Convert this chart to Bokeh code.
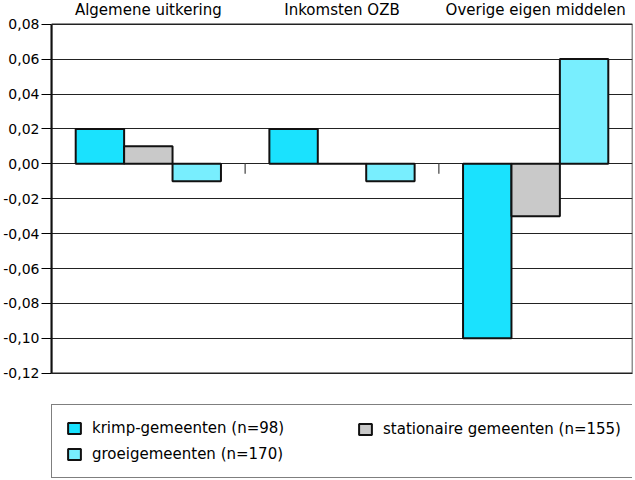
from bokeh.plotting import figure
from bokeh.models import (Range1d, FixedTicker, BoxAnnotation, Legend, LegendItem,
                          ColumnDataSource)
from bokeh.embed import file_html
from bokeh.resources import INLINE

# ---- data ----
categories = ["Algemene uitkering", "Inkomsten OZB", "Overige eigen middelen"]
krimp = [0.02, 0.02, -0.10]
stationair = [0.01, 0.00, -0.03]
groei = [-0.01, -0.01, 0.06]
series_labels = ["krimp-gemeenten (n=98)", "stationaire gemeenten (n=155)",
                 "groeigemeenten (n=170)"]
y_ticks = [-0.12, -0.10, -0.08, -0.06, -0.04, -0.02, 0.00, 0.02, 0.04, 0.06, 0.08]
y_tick_labels = ["-0,12", "-0,10", "-0,08", "-0,06", "-0,04", "-0,02",
                 "0,00", "0,02", "0,04", "0,06", "0,08"]

# ---- layout constants ----
W, H = 635, 480
px_per_unit = 1745.0
y_end = y_ticks[-1] + 23.7 / px_per_unit
y_start = y_ticks[0] - (H - 372.7) / px_per_unit
FONT = "DejaVu Sans"

colors = ["#1AE2FE", "#C9C9C9", "#78EEFE"]
bar_w = 0.25
offsets = [-0.25, 0.0, 0.25]

p = figure(width=W, height=H, x_range=Range1d(0, len(categories)),
           y_range=Range1d(y_start, y_end), output_backend="svg",
           toolbar_location=None, x_axis_location=None,
           min_border_left=51, min_border_right=3, min_border_top=0,
           min_border_bottom=0)
p.outline_line_color = None
p.background_fill_color = "white"
p.border_fill_color = "white"
p.xgrid.visible = False

# y axis
yax = p.yaxis[0]
yax.ticker = FixedTicker(ticks=y_ticks)
yax.major_label_overrides = dict(zip(y_ticks, y_tick_labels))
yax.bounds = (y_ticks[0], y_ticks[-1])
yax.axis_line_width = 2
yax.axis_line_color = "black"
yax.major_tick_out = 10
yax.major_tick_in = 0
yax.major_tick_line_color = "black"
yax.minor_tick_line_color = None
yax.major_label_standoff = 2
yax.major_label_text_font = FONT
yax.major_label_text_font_size = "14px"
yax.major_label_text_color = "black"

p.ygrid.grid_line_color = "#222222"
p.ygrid.grid_line_width = 1

# bars
renderers = []
for vals, col, off in zip([krimp, stationair, groei], colors, offsets):
    src = ColumnDataSource(dict(x=[i + 0.5 + off for i in range(len(categories))],
                                top=vals))
    r = p.vbar(x="x", top="top", bottom=0, width=bar_w, source=src,
               fill_color=col, line_color="#111111", line_width=2)
    renderers.append(r)

# plot-area border
p.add_layout(BoxAnnotation(left=0, right=len(categories), bottom=y_ticks[0],
                           top=y_ticks[-1], fill_alpha=0, line_color="#222222",
                           line_width=1.5, line_alpha=1))

# category separators on zero line
tick_len = 10 / px_per_unit
sep_x = list(range(1, len(categories)))
p.segment(x0=sep_x, y0=[0] * len(sep_x), x1=sep_x, y1=[-tick_len] * len(sep_x),
          line_color="#666666", line_width=1.5)

# category titles
tsrc = ColumnDataSource(dict(x=[i + 0.5 for i in range(len(categories))],
                             y=[y_end] * len(categories), t=categories))
p.text(x="x", y="y", text="t", source=tsrc, text_align="center",
       text_baseline="middle", y_offset=9, text_font_size="15px",
       text_color="black", text_font={"value": FONT})

# legends
common = dict(padding=14, spacing=8, glyph_width=16, glyph_height=14,
              label_standoff=10, label_height=18, label_text_font=FONT,
              label_text_font_size="15px", label_text_color="black", margin=0)
leg1 = Legend(items=[LegendItem(label=series_labels[0], renderers=[renderers[0]]),
                     LegendItem(label=series_labels[2], renderers=[renderers[2]])],
              location=(0, 2), label_width=527, border_line_color="black",
              border_line_width=1.5, background_fill_color="white",
              background_fill_alpha=1, **common)
leg2 = Legend(items=[LegendItem(label=series_labels[1], renderers=[renderers[1]])],
              location=(292, 28), border_line_alpha=0, background_fill_alpha=0,
              **common)
p.add_layout(leg1)
p.add_layout(leg2)

open("out.html", "w").write(file_html(p, INLINE))
